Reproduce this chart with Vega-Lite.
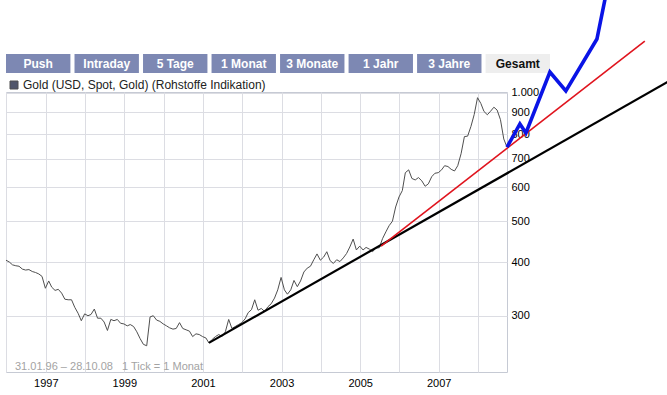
{
  "$schema": "https://vega.github.io/schema/vega-lite/v6.json",
  "autosize": {"type": "none"},
  "padding": {"left": 6, "top": 54, "right": 661, "bottom": 341},
  "background": "white",
  "spacing": 19,
  "bounds": "flush",
  "config": {
    "font": "Liberation Sans",
    "locale": {"number": {"decimal": ",", "thousands": ".", "grouping": [3], "currency": ["", " €"]}}
  },
  "datasets": {
    "gold": [
      {"date": "1996-01-28", "price": 405}, {"date": "1996-02-28", "price": 401}, {"date": "1996-03-28", "price": 395}, {"date": "1996-04-28", "price": 393}, {"date": "1996-05-28", "price": 392}, {"date": "1996-06-28", "price": 386}, {"date": "1996-07-28", "price": 384}, {"date": "1996-08-28", "price": 385}, {"date": "1996-09-28", "price": 381}, {"date": "1996-10-28", "price": 379}, {"date": "1996-11-28", "price": 376}, {"date": "1996-12-28", "price": 371},
      {"date": "1997-01-28", "price": 348}, {"date": "1997-02-28", "price": 362}, {"date": "1997-03-28", "price": 350}, {"date": "1997-04-28", "price": 344}, {"date": "1997-05-28", "price": 346}, {"date": "1997-06-28", "price": 339}, {"date": "1997-07-28", "price": 328}, {"date": "1997-08-28", "price": 327}, {"date": "1997-09-28", "price": 327}, {"date": "1997-10-28", "price": 314}, {"date": "1997-11-28", "price": 304}, {"date": "1997-12-28", "price": 292},
      {"date": "1998-01-28", "price": 303}, {"date": "1998-02-28", "price": 300}, {"date": "1998-03-28", "price": 302}, {"date": "1998-04-28", "price": 311}, {"date": "1998-05-28", "price": 296}, {"date": "1998-06-28", "price": 296}, {"date": "1998-07-28", "price": 290}, {"date": "1998-08-28", "price": 277}, {"date": "1998-09-28", "price": 294}, {"date": "1998-10-28", "price": 292}, {"date": "1998-11-28", "price": 294}, {"date": "1998-12-28", "price": 288},
      {"date": "1999-01-28", "price": 287}, {"date": "1999-02-28", "price": 284}, {"date": "1999-03-28", "price": 286}, {"date": "1999-04-28", "price": 283}, {"date": "1999-05-28", "price": 275}, {"date": "1999-06-28", "price": 265}, {"date": "1999-07-28", "price": 257}, {"date": "1999-08-28", "price": 255}, {"date": "1999-09-28", "price": 298}, {"date": "1999-10-28", "price": 300}, {"date": "1999-11-28", "price": 293}, {"date": "1999-12-28", "price": 291},
      {"date": "2000-01-28", "price": 287}, {"date": "2000-02-28", "price": 284}, {"date": "2000-03-28", "price": 281}, {"date": "2000-04-28", "price": 279}, {"date": "2000-05-28", "price": 280}, {"date": "2000-06-28", "price": 289}, {"date": "2000-07-28", "price": 280}, {"date": "2000-08-28", "price": 278}, {"date": "2000-09-28", "price": 276}, {"date": "2000-10-28", "price": 268}, {"date": "2000-11-28", "price": 272}, {"date": "2000-12-28", "price": 271},
      {"date": "2001-01-28", "price": 268}, {"date": "2001-02-28", "price": 266}, {"date": "2001-03-28", "price": 259}, {"date": "2001-04-28", "price": 264}, {"date": "2001-05-28", "price": 268}, {"date": "2001-06-28", "price": 271}, {"date": "2001-07-28", "price": 268}, {"date": "2001-08-28", "price": 275}, {"date": "2001-09-28", "price": 294}, {"date": "2001-10-28", "price": 280}, {"date": "2001-11-28", "price": 283}, {"date": "2001-12-28", "price": 286},
      {"date": "2002-01-28", "price": 289}, {"date": "2002-02-28", "price": 295}, {"date": "2002-03-28", "price": 305}, {"date": "2002-04-28", "price": 310}, {"date": "2002-05-28", "price": 327}, {"date": "2002-06-28", "price": 309}, {"date": "2002-07-28", "price": 312}, {"date": "2002-08-28", "price": 307}, {"date": "2002-09-28", "price": 315}, {"date": "2002-10-28", "price": 320}, {"date": "2002-11-28", "price": 330}, {"date": "2002-12-28", "price": 345},
      {"date": "2003-01-28", "price": 369}, {"date": "2003-02-28", "price": 345}, {"date": "2003-03-28", "price": 337}, {"date": "2003-04-28", "price": 345}, {"date": "2003-05-28", "price": 363}, {"date": "2003-06-28", "price": 351}, {"date": "2003-07-28", "price": 362}, {"date": "2003-08-28", "price": 380}, {"date": "2003-09-28", "price": 388}, {"date": "2003-10-28", "price": 392}, {"date": "2003-11-28", "price": 406}, {"date": "2003-12-28", "price": 419},
      {"date": "2004-01-28", "price": 405}, {"date": "2004-02-28", "price": 412}, {"date": "2004-03-28", "price": 424}, {"date": "2004-04-28", "price": 404}, {"date": "2004-05-28", "price": 398}, {"date": "2004-06-28", "price": 406}, {"date": "2004-07-28", "price": 402}, {"date": "2004-08-28", "price": 410}, {"date": "2004-09-28", "price": 420}, {"date": "2004-10-28", "price": 435}, {"date": "2004-11-28", "price": 454}, {"date": "2004-12-28", "price": 428},
      {"date": "2005-01-28", "price": 437}, {"date": "2005-02-28", "price": 428}, {"date": "2005-03-28", "price": 434}, {"date": "2005-04-28", "price": 430}, {"date": "2005-05-28", "price": 424}, {"date": "2005-06-28", "price": 433}, {"date": "2005-07-28", "price": 433}, {"date": "2005-08-28", "price": 455}, {"date": "2005-09-28", "price": 472}, {"date": "2005-10-28", "price": 488}, {"date": "2005-11-28", "price": 500}, {"date": "2005-12-28", "price": 540},
      {"date": "2006-01-28", "price": 570}, {"date": "2006-02-28", "price": 590}, {"date": "2006-03-28", "price": 650}, {"date": "2006-04-28", "price": 660}, {"date": "2006-05-28", "price": 630}, {"date": "2006-06-28", "price": 625}, {"date": "2006-07-28", "price": 633}, {"date": "2006-08-28", "price": 622}, {"date": "2006-09-28", "price": 604}, {"date": "2006-10-28", "price": 612}, {"date": "2006-11-28", "price": 636}, {"date": "2006-12-28", "price": 648},
      {"date": "2007-01-28", "price": 650}, {"date": "2007-02-28", "price": 660}, {"date": "2007-03-28", "price": 675}, {"date": "2007-04-28", "price": 672}, {"date": "2007-05-28", "price": 662}, {"date": "2007-06-28", "price": 656}, {"date": "2007-07-28", "price": 675}, {"date": "2007-08-28", "price": 720}, {"date": "2007-09-28", "price": 790}, {"date": "2007-10-28", "price": 792}, {"date": "2007-11-28", "price": 835}, {"date": "2007-12-28", "price": 890},
      {"date": "2008-01-28", "price": 975}, {"date": "2008-02-28", "price": 945}, {"date": "2008-03-28", "price": 905}, {"date": "2008-04-28", "price": 889}, {"date": "2008-05-28", "price": 906}, {"date": "2008-06-28", "price": 926}, {"date": "2008-07-28", "price": 912}, {"date": "2008-08-28", "price": 866}, {"date": "2008-09-28", "price": 780}, {"date": "2008-10-28", "price": 746}
    ],
    "trend_black": [{"date": "2001-03-28", "price": 259}, {"date": "2013-03-14", "price": 1099}],
    "trend_red": [{"date": "2005-08-15", "price": 437}, {"date": "2012-05-01", "price": 1324}],
    "projection_blue": [
      {"date": "2008-10-28", "price": 746}, {"date": "2009-02-25", "price": 846}, {"date": "2009-04-22", "price": 806},
      {"date": "2009-12-01", "price": 1120}, {"date": "2010-04-28", "price": 1011}, {"date": "2011-02-11", "price": 1339}, {"date": "2011-06-02", "price": 1841}
    ],
    "tabs": [
      {"tab": "Push", "aktiv": "nein"}, {"tab": "Intraday", "aktiv": "nein"}, {"tab": "5 Tage", "aktiv": "nein"}, {"tab": "1 Monat", "aktiv": "nein"},
      {"tab": "3 Monate", "aktiv": "nein"}, {"tab": "1 Jahr", "aktiv": "nein"}, {"tab": "3 Jahre", "aktiv": "nein"}, {"tab": "Gesamt", "aktiv": "ja"}
    ]
  },
  "vconcat": [
    {
      "width": 544,
      "height": 19,
      "view": {"stroke": null},
      "data": {"name": "tabs"},
      "encoding": {
        "x": {"field": "tab", "type": "nominal", "sort": null, "axis": null, "scale": {"paddingInner": 0.06, "paddingOuter": 0}}
      },
      "layer": [
        {
          "mark": {"type": "rect"},
          "encoding": {
            "color": {"field": "aktiv", "type": "nominal", "scale": {"domain": ["nein", "ja"], "range": ["#7d88b3", "#eeeeee"]}, "legend": null}
          }
        },
        {
          "mark": {"type": "text", "fontWeight": "bold", "fontSize": 12, "font": "Liberation Sans"},
          "encoding": {
            "text": {"field": "tab"},
            "color": {"field": "aktiv", "type": "nominal", "scale": {"domain": ["nein", "ja"], "range": ["#ffffff", "#111111"]}, "legend": null}
          }
        }
      ],
      "resolve": {"scale": {"color": "independent"}}
    },
    {
      "width": 501,
      "height": 280,
      "view": {"stroke": "#c6cad4"},
      "title": {"text": "31.01.96 – 28.10.08\u00a0\u00a0\u00a01 Tick = 1 Monat", "orient": "bottom", "anchor": "start", "frame": "group", "offset": -27, "dx": 9, "fontSize": 11, "fontWeight": "normal", "color": "#a3a3a3", "font": "Liberation Sans"},
      "encoding": {
        "x": {
          "field": "date", "type": "temporal", "title": null,
          "scale": {"domain": [{"year": 1996, "month": 1, "date": 28, "utc": true}, {"year": 2008, "month": 10, "date": 28, "utc": true}]},
          "axis": {
            "values": [
              {"year": 1996, "month": 2, "date": 1, "utc": true}, {"year": 1997, "month": 2, "date": 1, "utc": true}, {"year": 1998, "month": 2, "date": 1, "utc": true},
              {"year": 1999, "month": 2, "date": 1, "utc": true}, {"year": 2000, "month": 2, "date": 1, "utc": true}, {"year": 2001, "month": 2, "date": 1, "utc": true},
              {"year": 2002, "month": 2, "date": 1, "utc": true}, {"year": 2003, "month": 2, "date": 1, "utc": true}, {"year": 2004, "month": 2, "date": 1, "utc": true},
              {"year": 2005, "month": 2, "date": 1, "utc": true}, {"year": 2006, "month": 2, "date": 1, "utc": true}, {"year": 2007, "month": 2, "date": 1, "utc": true},
              {"year": 2008, "month": 2, "date": 1, "utc": true}
            ],
            "format": "%Y",
            "labelExpr": "(+datum.label) % 2 == 1 ? datum.label : ''",
            "ticks": false, "domain": false, "grid": true, "gridColor": "#dcdde3",
            "labelPadding": 5, "labelFontSize": 11, "labelColor": "#000000", "labelFont": "Liberation Sans",
            "labelFlush": false, "labelOverlap": false
          }
        },
        "y": {
          "field": "price", "type": "quantitative", "title": null,
          "scale": {"type": "log", "domain": [221.3, 1005.4], "nice": false, "zero": false},
          "axis": {
            "orient": "right", "values": [300, 400, 500, 600, 700, 800, 900, 1000], "format": ",d",
            "ticks": false, "domain": false, "grid": true, "gridColor": "#dcdde3",
            "labelPadding": 4, "labelFontSize": 11, "labelColor": "#000000", "labelFont": "Liberation Sans"
          }
        }
      },
      "layer": [
        {
          "data": {"name": "gold"},
          "mark": {"type": "area", "fill": "#e3e5f5", "opacity": 0.5}
        },
        {
          "data": {"name": "gold"},
          "mark": {"type": "line", "strokeWidth": 1},
          "encoding": {
            "color": {
              "datum": "Gold (USD, Spot, Gold) (Rohstoffe Indikation)", "type": "nominal",
              "scale": {"range": ["#4f4f4f"]},
              "legend": {
                "orient": "none", "legendX": 2, "legendY": 25, "title": null, "symbolType": "square", "symbolSize": 64,
                "symbolFillColor": "#50556a", "symbolStrokeColor": "#8a90a4", "symbolStrokeWidth": 1,
                "labelFontSize": 12, "labelFont": "Liberation Sans", "labelColor": "#222222", "labelOffset": 3, "labelLimit": 500, "padding": 0
              }
            }
          }
        },
        {"data": {"name": "trend_black"}, "mark": {"type": "line", "color": "#000000", "strokeWidth": 2.2}},
        {"data": {"name": "trend_red"}, "mark": {"type": "line", "color": "#e0141e", "strokeWidth": 1.6}},
        {"data": {"name": "projection_blue"}, "mark": {"type": "line", "color": "#0a14e6", "strokeWidth": 3.6, "strokeJoin": "miter"}}
      ]
    }
  ]
}
